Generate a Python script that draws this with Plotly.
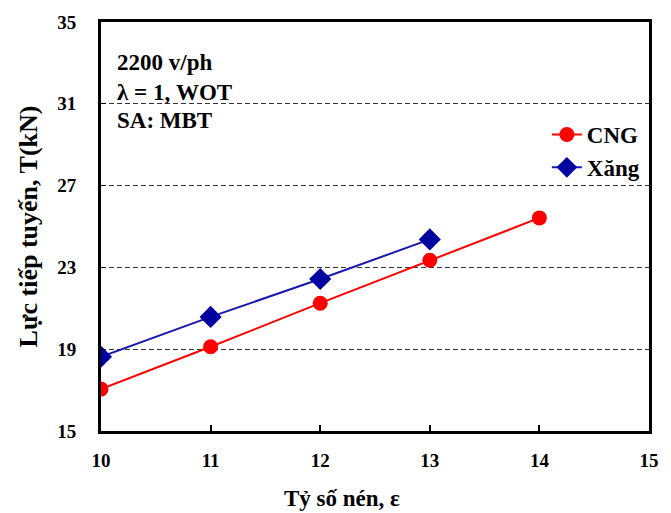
import plotly.graph_objects as go

# Compression ratio vs tangential force at 2200 rpm
compression_ratio_cng = [10, 11, 12, 13, 14]
force_cng = [17.05, 19.12, 21.25, 23.35, 25.42]

compression_ratio_petrol = [10, 11, 12, 13]
force_petrol = [18.63, 20.58, 22.43, 24.37]

y_ticks = [15, 19, 23, 27, 31, 35]
x_ticks = [10, 11, 12, 13, 14, 15]

SERIF = "Liberation Serif"

# plot-area geometry in pixels, used to place paper-referenced text
L, T, W, H = 101, 22, 558, 409


def px(xp):
    return (xp - L) / W


def py(yp):
    return 1 - (yp - T) / H


fig = go.Figure()

fig.add_trace(go.Scatter(
    x=compression_ratio_cng, y=force_cng, name="CNG",
    mode="lines+markers", legendgroup="a",
    line=dict(color="#FF0000", width=2),
    marker=dict(symbol="circle", size=15, color="#FF0000"),
))
fig.add_trace(go.Scatter(
    x=compression_ratio_petrol, y=force_petrol, name="Xăng",
    mode="lines+markers", legendgroup="b",
    line=dict(color="#1818B0", width=2),
    marker=dict(symbol="diamond", size=17, color="#0000A0"),
))

fig.update_layout(
    width=671, height=513,
    margin=dict(l=L, r=671 - L - W, t=T, b=513 - T - H),
    paper_bgcolor="white", plot_bgcolor="white",
    font=dict(family=SERIF, size=18, color="black", weight="bold"),
    showlegend=True,
    legend=dict(
        x=px(555), y=py(113),
        xanchor="left", yanchor="top",
        font=dict(family=SERIF, size=23, weight="bold"),
        bgcolor="rgba(0,0,0,0)", tracegroupgap=0,
        traceorder="grouped", itemwidth=30,
    ),
    xaxis=dict(
        range=[10, 15], tickvals=x_ticks, ticks="inside", ticklen=6,
        tickwidth=2, tickcolor="black", ticklabelstandoff=10,
        showline=True, linecolor="black", linewidth=3, mirror=True,
        showgrid=False, zeroline=False,
        tickfont=dict(family=SERIF, size=19, weight="bold"),
    ),
    yaxis=dict(
        range=[15, 35], tickvals=y_ticks, ticks="inside", ticklen=5,
        tickwidth=1, tickcolor="black", ticklabelstandoff=18,
        showline=True, linecolor="black", linewidth=3, mirror=True,
        showgrid=True, gridcolor="#333333", gridwidth=1, griddash="5px,3px",
        zeroline=False,
        tickfont=dict(family=SERIF, size=19, weight="bold"),
        title=dict(text="Lực tiếp tuyến, T(kN)", standoff=13,
                   font=dict(family=SERIF, size=26, weight="bold")),
    ),
)

# x-axis title
fig.add_annotation(
    text="Tỷ số nén, ε", xref="paper", yref="paper",
    x=px(346), y=py(498), xanchor="center", yanchor="middle",
    showarrow=False, font=dict(family=SERIF, size=23, weight="bold"),
)

# operating conditions
for text, ypos in [("2200 v/ph", 63), ("λ = 1, WOT", 92), ("SA: MBT", 120)]:
    fig.add_annotation(
        text=text, xref="paper", yref="paper",
        x=px(115), y=py(ypos),
        xanchor="left", yanchor="middle", showarrow=False,
        font=dict(family=SERIF, size=23, weight="bold"),
    )

fig.write_html("out.html")
